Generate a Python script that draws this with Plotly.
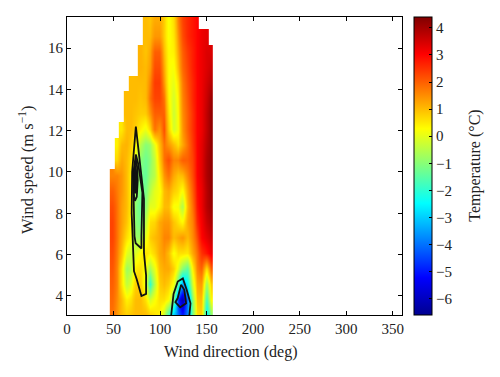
import plotly.graph_objects as go

N = None
wind_dir_edges = [46 + 5.05 * i for i in range(23)]
wind_speed_edges = [2.7 + 0.75 * i for i in range(21)]
row_00 = [1.8,1.4,1.0,0.8,0.9,1.0,1.0,1.0,0.8,0.6,0.4,-0.3,-1.8,-3.0,-4.0,-5.0,-3.8,-1.2,0.6,0.8,-2.6,-1.0]
row_01 = [1.9,1.5,1.0,0.4,0.6,1.0,1.0,0.6,-0.2,0.2,0.6,0.6,0.3,-1.0,-4.6,-6.3,-4.0,-1.0,0.9,1.0,-1.8,0.3]
row_02 = [2.0,1.6,0.6,-0.4,0.0,0.8,0.8,0.0,-2.0,-0.5,0.8,1.0,0.8,0.2,-1.5,-3.5,-2.5,-0.2,1.2,1.4,-0.8,0.8]
row_03 = [2.1,1.6,0.6,-0.8,-0.5,0.5,0.6,0.2,-0.7,0.0,1.0,1.2,1.2,0.8,0.0,-1.0,-1.5,0.4,1.6,2.0,0.6,2.0]
row_04 = [2.2,1.7,1.0,0.0,-0.3,-0.1,0.3,0.6,0.4,0.7,1.2,1.4,1.0,0.2,0.6,0.6,0.5,1.2,1.8,2.5,2.8,3.2]
row_05 = [2.3,1.8,1.2,0.6,0.2,-0.8,-0.8,0.0,0.8,1.0,1.2,1.6,1.6,1.0,1.2,1.4,1.0,1.5,2.2,3.0,3.3,3.6]
row_06 = [2.3,1.8,1.3,0.9,0.3,-1.0,-1.2,-0.5,0.6,0.7,1.2,1.4,1.4,0.9,0.6,0.3,1.2,1.6,2.6,3.1,3.6,3.9]
row_07 = [2.2,1.8,1.3,1.0,0.4,-1.0,-1.4,-1.0,0.0,0.0,0.4,1.0,1.0,0.2,0.2,-0.6,1.0,1.8,2.8,3.2,3.8,4.1]
row_08 = [2.0,1.7,1.4,1.0,0.4,-0.8,-1.2,-1.2,-0.5,0.0,0.2,1.0,1.2,0.8,0.6,0.2,1.2,2.0,2.9,3.2,3.8,4.2]
row_09 = [1.6,1.6,1.4,1.0,0.4,-0.3,-1.2,-1.4,-0.8,-0.5,0.5,1.4,1.8,1.2,0.9,1.0,1.6,2.2,3.0,3.3,3.9,4.2]
row_10 = [N,0.7,1.2,1.0,0.6,0.0,-1.0,-1.3,-1.0,-0.4,0.8,1.8,2.2,1.6,1.6,2.0,2.0,2.3,3.0,3.3,3.9,4.2]
row_11 = [N,0.4,1.0,1.1,0.8,0.3,-0.5,-1.0,-0.8,0.0,1.0,1.8,1.4,1.0,0.6,1.2,1.8,2.4,3.0,3.3,3.8,4.2]
row_12 = [N,N,0.5,1.0,1.0,0.8,0.4,0.1,0.7,1.8,1.4,2.2,0.8,-0.2,0.2,1.4,2.0,2.5,3.0,3.2,3.7,4.2]
row_13 = [N,N,N,1.0,1.0,0.9,0.8,0.8,1.4,2.0,2.0,2.0,0.6,-0.3,0.3,1.5,2.0,2.5,3.0,3.2,3.7,4.2]
row_14 = [N,N,N,1.0,1.0,1.0,0.9,1.0,1.8,2.3,2.3,1.8,0.4,-0.2,0.4,1.6,2.1,2.6,3.0,3.2,3.6,4.1]
row_15 = [N,N,N,N,1.0,1.0,1.0,1.0,1.6,2.4,2.4,1.4,0.3,0.0,0.6,1.7,2.2,2.6,3.0,3.2,3.5,3.8]
row_16 = [N,N,N,N,N,N,1.1,1.0,1.3,2.2,2.2,1.2,0.3,0.2,1.0,1.9,2.3,2.7,3.0,3.2,3.4,3.6]
row_17 = [N,N,N,N,N,N,1.1,0.9,1.2,2.0,2.0,1.0,0.3,0.4,1.2,2.0,2.4,2.7,3.0,3.2,3.4,3.4]
row_18 = [N,N,N,N,N,N,N,1.0,1.0,1.4,1.4,0.8,0.2,0.5,1.4,2.2,2.6,2.8,3.0,3.2,3.3,N]
row_19 = [N,N,N,N,N,N,N,1.0,0.9,1.2,1.2,0.8,0.2,0.6,1.6,2.3,2.6,2.8,3.0,N,N,N]
temperature = [row_00,row_01,row_02,row_03,row_04,row_05,row_06,row_07,row_08,row_09,
               row_10,row_11,row_12,row_13,row_14,row_15,row_16,row_17,row_18,row_19]

contour_a_x = [74,71.5,70,69.5,70.5,72,75,80,85,85,82.7,82.7,78,74]
contour_a_y = [12.2,11,10,8,6.5,5.2,4.8,4,4.1,5,6.1,8.7,10.6,12.2]
contour_b_x = [74,71.5,71.5,72.5,73.8,80,80,81,76.5,74]
contour_b_y = [10.85,10,9,6.9,6.55,6.3,6.9,9,10.4,10.85]
contour_c_x = [74,72,71.5,73,75,76,75.5,74]
contour_c_y = [10.6,10,9.0,8.6,8.8,9.6,10.2,10.6]
contour_d_x = [73.5,72.5,73,74.5,75,73.5]
contour_d_y = [10.3,9.8,9,9,9.8,10.3]
contour_g_x = [73.5,73,73.2,74.2,74.5,73.5]
contour_g_y = [10.0,9.6,9.2,9.2,9.6,10.0]
contour_e_x = [112,114.5,119,124.5,128.6,132.7,131.5]
contour_e_y = [3.08,4.1,4.7,4.85,4.3,3.65,3.08]
contour_f_x = [122.6,119,116.5,121.6,128,126,122.6]
contour_f_y = [4.55,3.9,3.7,3.45,3.65,4.3,4.55]

x_ticks = [0,50,100,150,200,250,300,350]
y_ticks = [4,6,8,10,12,14,16]
cb_ticks = [4,3,2,1,0,-1,-2,-3,-4,-5,-6]

jet = [[0,"#00008f"],[0.125,"#0000ff"],[0.375,"#00ffff"],[0.625,"#ffff00"],[0.875,"#ff0000"],[1,"#800000"]]
FONT = "Liberation Serif"
INK = "#222222"

fig = go.Figure()
fig.add_trace(go.Heatmap(
    x=wind_dir_edges, y=wind_speed_edges, z=temperature, zmin=-6.6, zmax=4.4,
    colorscale=jet, zsmooth="best", hoverongaps=False,
    colorbar=dict(
        x=1.037, xanchor="left", xpad=0, y=0.5, yanchor="middle", ypad=0,
        thickness=18, thicknessmode="pixels", len=1.0, lenmode="fraction",
        outlinecolor="#000000", outlinewidth=1,
        ticks="inside", ticklen=3, tickcolor="#000000", tickvals=cb_ticks,
        tickfont=dict(family=FONT, size=15, color=INK),
    ),
))
for cx, cy in [(contour_a_x,contour_a_y),(contour_b_x,contour_b_y),(contour_c_x,contour_c_y),
               (contour_d_x,contour_d_y),(contour_g_x,contour_g_y),(contour_e_x,contour_e_y),(contour_f_x,contour_f_y)]:
    fig.add_trace(go.Scatter(x=cx, y=cy, mode="lines", showlegend=False,
                             line=dict(color="#111111", width=1.8)))

axis = dict(showgrid=False, zeroline=False, ticks="inside", ticklen=4, tickcolor="#000000",
            showline=True, linecolor="#000000", linewidth=1, mirror="ticks",
            tickfont=dict(family=FONT, size=15, color=INK))
fig.update_xaxes(range=[0,360], tickvals=x_ticks, **axis)
fig.update_yaxes(range=[3.08,17.5], tickvals=y_ticks, **axis)

title_font = dict(family=FONT, size=16, color=INK)
fig.add_annotation(text="Wind direction (deg)", xref="paper", yref="paper", x=0.4895, y=-0.125,
                   xanchor="center", yanchor="middle", showarrow=False, font=title_font)
fig.add_annotation(text="Wind speed (m s<sup>−1</sup>)", xref="paper", yref="paper", x=-0.119, y=0.487,
                   xanchor="center", yanchor="middle", textangle=-90, showarrow=False,
                   font=dict(family=FONT, size=16.5, color=INK))
fig.add_annotation(text="Temperature (°C)", xref="paper", yref="paper", x=1.217, y=0.5,
                   xanchor="center", yanchor="middle", textangle=-90, showarrow=False, font=title_font)

fig.update_layout(width=492, height=369, margin=dict(l=59,r=98,t=9,b=62),
                  paper_bgcolor="#ffffff", plot_bgcolor="#ffffff", showlegend=False)
fig.write_html("out.html")
